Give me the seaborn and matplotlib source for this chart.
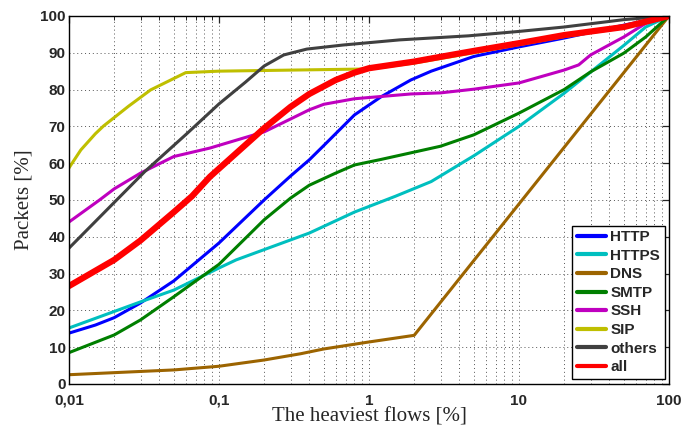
import numpy as np
import pandas as pd
import matplotlib
matplotlib.use("Agg")
import matplotlib.pyplot as plt
import seaborn as sns
from matplotlib.ticker import FixedLocator, LogLocator, NullFormatter

# ---- data ----
http_x = [0.01, 0.015, 0.02, 0.03, 0.05, 0.07, 0.1, 0.2, 0.3, 0.4, 0.5, 0.8, 1.2, 1.9, 2.6, 5, 10, 20, 50, 100]
http_y = [13.8, 16, 18, 22, 28, 33, 38.3, 50, 56.5, 60.9, 64.8, 73.1, 78, 82.6, 85, 89, 91.6, 94, 97.5, 100]

https_x = [0.01, 0.03, 0.05, 0.1, 0.13, 0.4, 0.8, 1.5, 2.6, 5, 10, 20, 50, 70, 100]
https_y = [15.2, 22.3, 25.5, 31.5, 33.7, 41, 46.7, 51, 55, 62, 70, 79, 92, 97, 100]

dns_x = [0.01, 0.05, 0.1, 0.2, 0.35, 0.5, 1, 2, 100]
dns_y = [2.5, 3.8, 4.8, 6.5, 8.2, 9.5, 11.4, 13.2, 100]

smtp_x = [0.01, 0.02, 0.03, 0.05, 0.1, 0.2, 0.3, 0.4, 0.6, 0.8, 1.2, 1.9, 3, 5, 10, 20, 30, 50, 70, 100]
smtp_y = [8.5, 13.3, 17.4, 23.7, 32.5, 44.6, 50.5, 54, 57.3, 59.5, 61, 62.8, 64.6, 67.7, 73.6, 80, 84.8, 89.9, 94.3, 100]

ssh_x = [0.01, 0.016, 0.02, 0.03, 0.05, 0.087, 0.2, 0.3, 0.4, 0.5, 0.8, 1.9, 3, 5, 10, 20, 25, 30, 50, 70, 100]
ssh_y = [44, 50, 53, 57.3, 61.8, 64.1, 68.5, 72, 74.5, 76, 77.5, 78.8, 79.1, 80.1, 81.8, 85.3, 86.7, 89.4, 94.3, 98, 100]

sip_x = [0.01, 0.012, 0.015, 0.017, 0.025, 0.035, 0.06, 0.1, 1, 2, 5, 10, 20, 50, 100]
sip_y = [58.7, 63.6, 68, 70.1, 75.5, 79.9, 84.6, 85, 85.6, 87.2, 90, 92.2, 94.4, 96.8, 100]

others_x = [0.01, 0.0208, 0.032, 0.061, 0.1, 0.15, 0.2, 0.27, 0.385, 0.67, 1.6, 4.6, 10, 20, 50, 100]
others_y = [36.9, 50, 57.7, 68, 76.1, 82, 86.4, 89.4, 91, 92.1, 93.5, 94.6, 95.8, 97, 99, 100]

all_x = [0.01, 0.02, 0.03, 0.05, 0.066, 0.087, 0.2, 0.3, 0.4, 0.6, 0.8, 1, 2, 3, 5, 10, 20, 50, 100]
all_y = [26.6, 33.7, 39, 46.7, 51, 56.3, 69.5, 75.3, 78.8, 82.6, 84.6, 85.8, 87.6, 88.9, 90.5, 92.6, 94.8, 97, 100]

series_names = ["HTTP", "HTTPS", "DNS", "SMTP", "SSH", "SIP", "others", "all"]
series_x = [http_x, https_x, dns_x, smtp_x, ssh_x, sip_x, others_x, all_x]
series_y = [http_y, https_y, dns_y, smtp_y, ssh_y, sip_y, others_y, all_y]

x_ticks = [0.01, 0.1, 1, 10, 100]
x_tick_labels = ["0,01", "0,1", "1", "10", "100"]
y_ticks = list(range(0, 101, 10))

colors = {"HTTP": "#0000ff", "HTTPS": "#00bfbf", "DNS": "#9c6400", "SMTP": "#007f00",
          "SSH": "#bf00bf", "SIP": "#bfbf00", "others": "#404040", "all": "#ff0000"}
widths = {n: 2.2 for n in series_names}
widths["all"] = 4.5

frames = []
for n, xs, ys in zip(series_names, series_x, series_y):
    frames.append(pd.DataFrame({"series": n, "x": xs, "y": ys}))
df = pd.concat(frames, ignore_index=True)

sns.set_style("white")
fig = plt.figure(figsize=(6.83, 4.28), dpi=100)
ax = fig.add_axes([0.101, 0.103, 0.8785, 0.8597])

for n in series_names:
    sub = df[df["series"] == n]
    sns.lineplot(data=sub, x="x", y="y", ax=ax, color=colors[n], linewidth=widths[n],
                 label=n, sort=False, estimator=None, solid_joinstyle="round",
                 solid_capstyle="round")

ax.set_xscale("log")
ax.set_xlim(0.01, 100)
ax.set_ylim(0, 100)
ax.xaxis.set_major_locator(FixedLocator(x_ticks))
ax.set_xticklabels(x_tick_labels)
ax.xaxis.set_minor_locator(LogLocator(base=10, subs=np.arange(2, 10)))
ax.xaxis.set_minor_formatter(NullFormatter())
ax.set_yticks(y_ticks)

ax.grid(True, which="major", linestyle=(0, (1, 3)), color="#555555", linewidth=0.7)
ax.grid(True, which="minor", axis="x", linestyle=(0, (1, 3)), color="#555555", linewidth=0.7)

ax.tick_params(which="both", direction="in", top=True, right=True)
ax.tick_params(which="major", length=5, width=0.9)
ax.tick_params(which="minor", length=3, width=0.7)
for lab in ax.get_xticklabels() + ax.get_yticklabels():
    lab.set_fontfamily("Liberation Sans")
    lab.set_fontweight("bold")
    lab.set_fontsize(11)
ax.tick_params(axis="x", pad=7)
ax.tick_params(axis="y", pad=2.5)
for s in ax.spines.values():
    s.set_color("black")
    s.set_linewidth(1.0)

ax.set_xlabel("The heaviest flows [%]", fontfamily="Liberation Serif", fontsize=15, labelpad=0)
ax.set_ylabel("Packets [%]", fontfamily="Liberation Serif", fontsize=15, labelpad=5)

leg = ax.legend(loc="lower right", bbox_to_anchor=(0.993, 0.014),
                prop={"family": "Liberation Sans", "weight": "bold", "size": 11},
                handlelength=1.9, handletextpad=0.3, labelspacing=0.3,
                borderpad=0.3, borderaxespad=0.0, fancybox=False, framealpha=1,
                edgecolor="black")
leg.get_frame().set_linewidth(1.0)
for h in leg.get_lines():
    h.set_linewidth(3)

fig.savefig("out.png", dpi=100)
